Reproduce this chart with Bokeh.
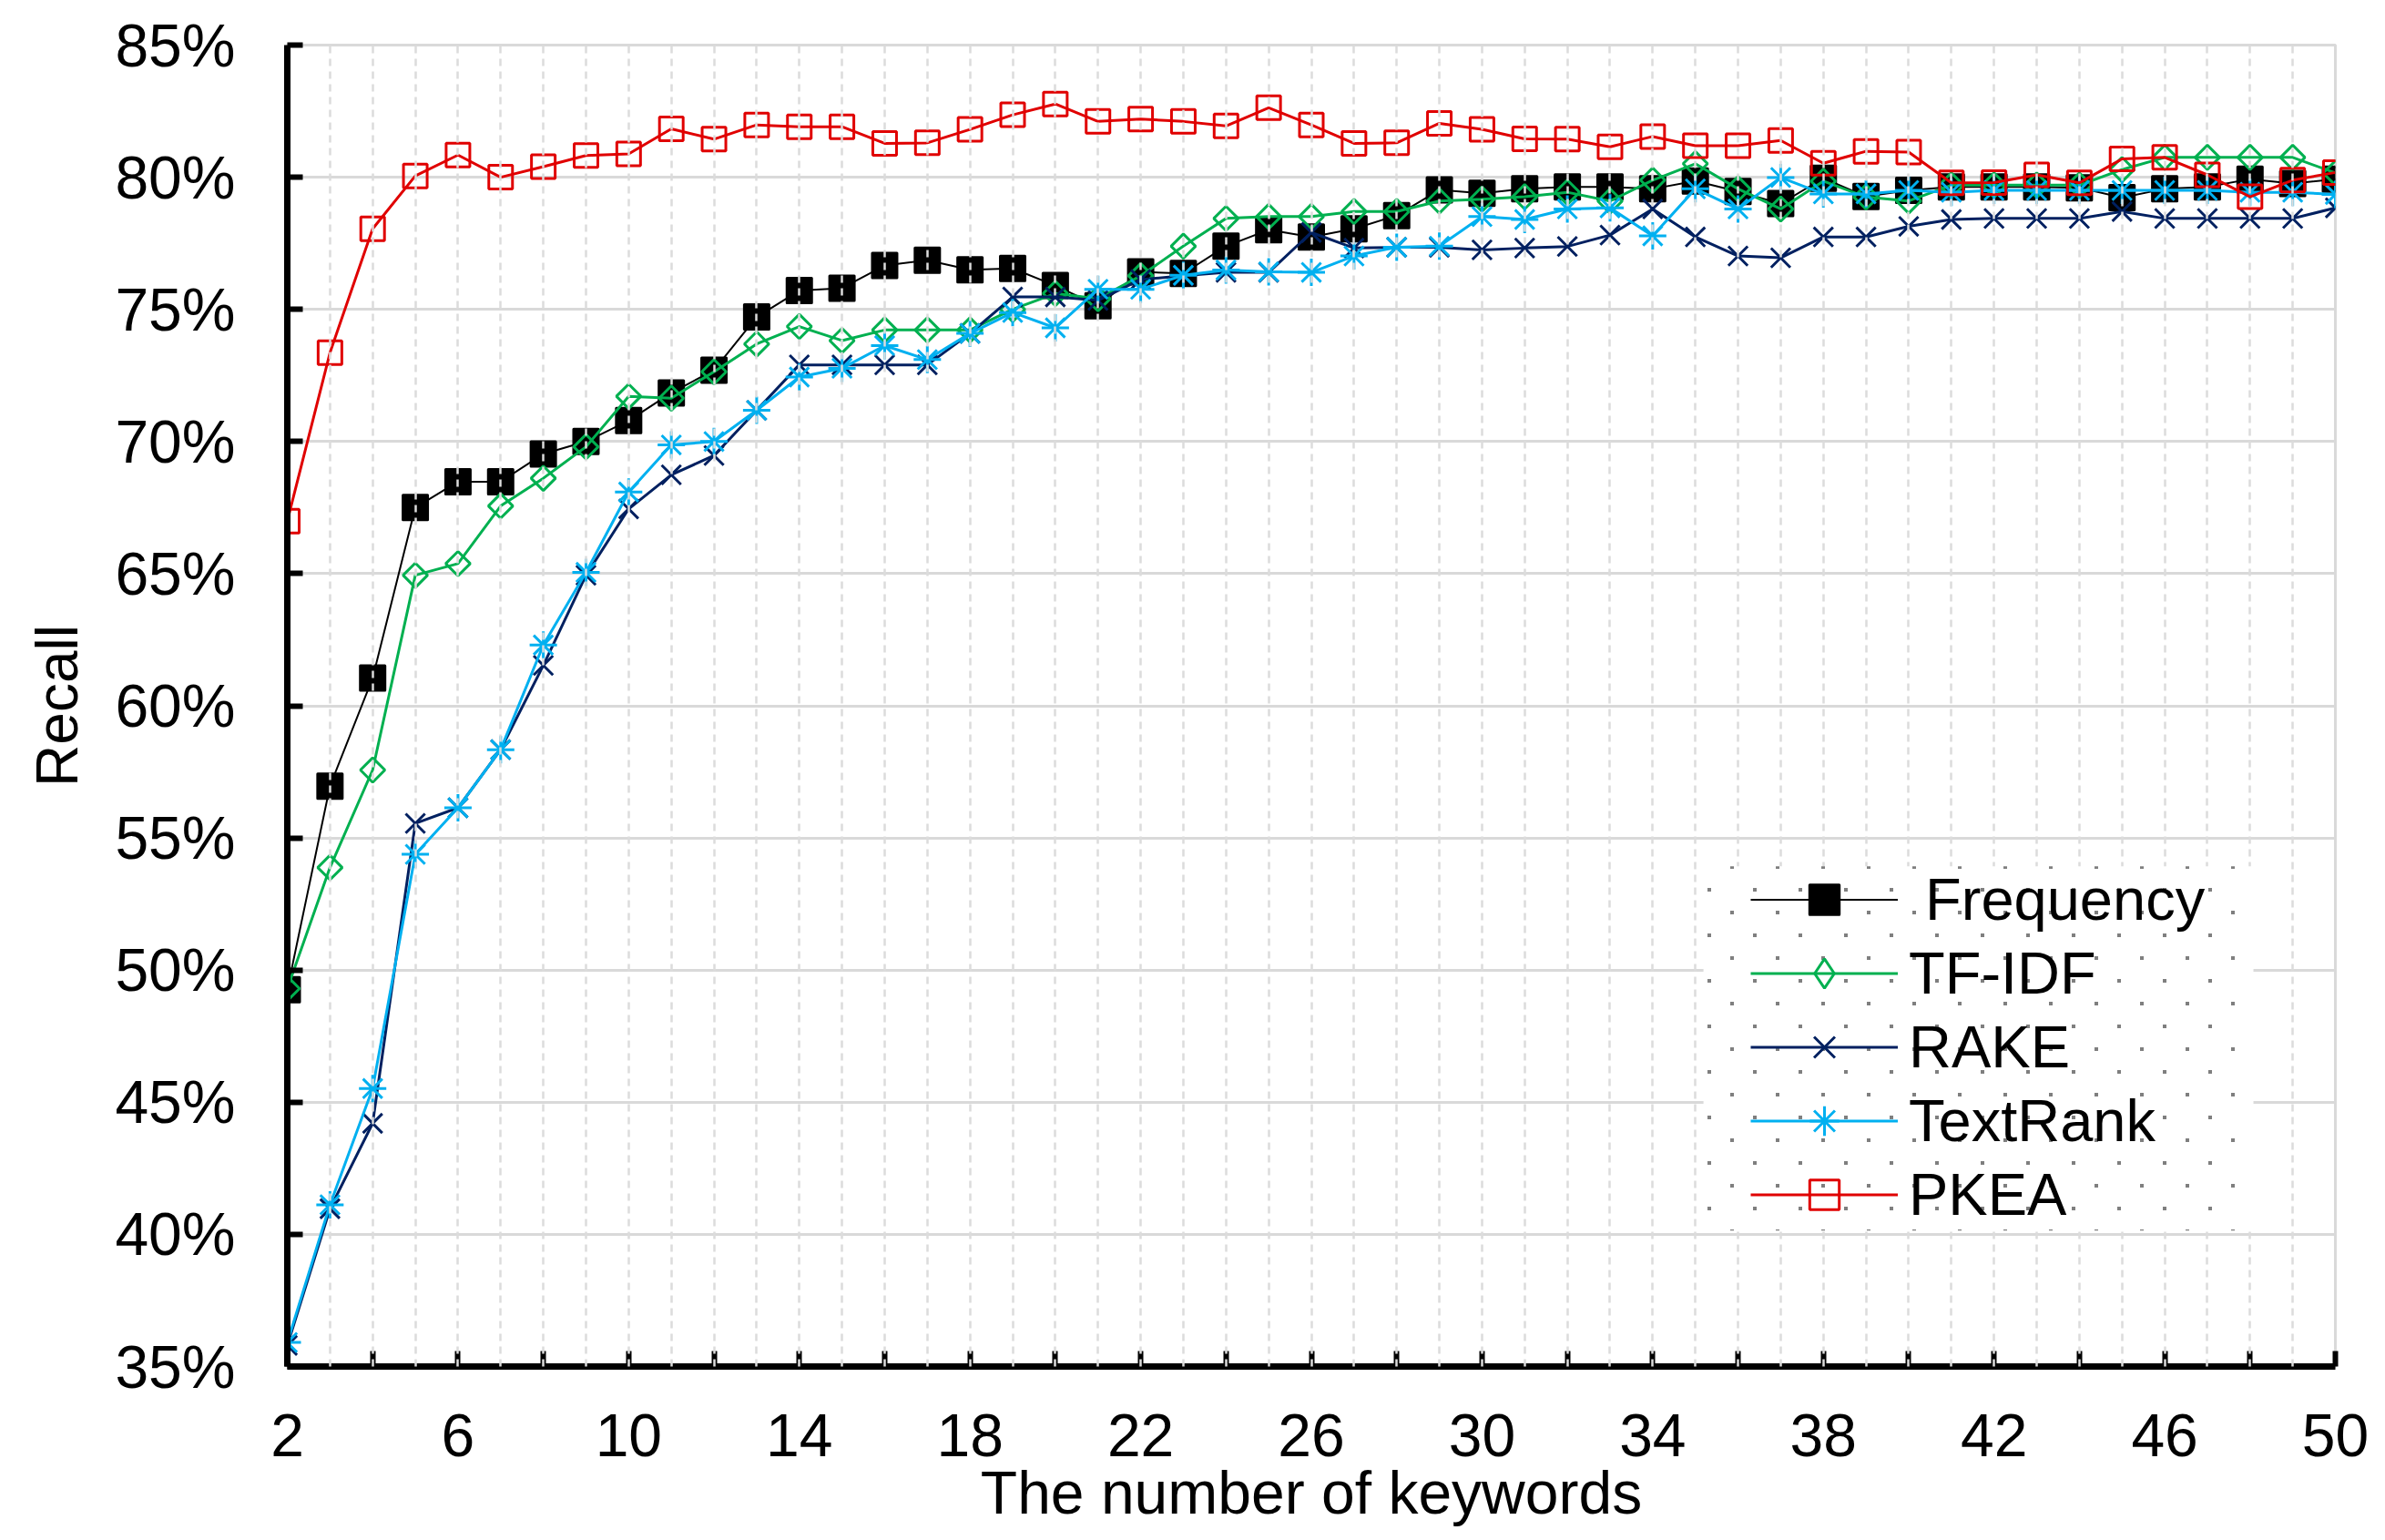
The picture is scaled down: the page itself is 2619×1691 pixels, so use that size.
from bokeh.plotting import figure
from bokeh.models import (Range1d, FixedTicker, PrintfTickFormatter, Legend, LegendItem,
                          BoxAnnotation, ColumnDataSource, ImageURLTexture)
from bokeh.embed import file_html
from bokeh.resources import INLINE
import base64
import math

x_vals = list(range(2, 51))

frequency = [49.26, 56.96, 61.05, 67.50, 68.48, 68.48, 69.53, 70.00, 70.79, 71.84,
             72.70, 74.71, 75.71, 75.80, 76.66, 76.86, 76.50, 76.55, 75.90, 75.14,
             76.42, 76.36, 77.39, 78.01, 77.74, 78.05, 78.55, 79.52, 79.39, 79.56,
             79.63, 79.63, 79.56, 79.86, 79.46, 79.00, 79.96, 79.27, 79.50, 79.63,
             79.63, 79.63, 79.60, 79.23, 79.56, 79.63, 79.93, 79.76, 79.93]

tfidf = [49.30, 53.88, 57.57, 64.94, 65.38, 67.56, 68.61, 69.80, 71.71, 71.64,
         72.64, 73.69, 74.35, 73.82, 74.22, 74.22, 74.22, 75.00, 75.60, 75.40,
         76.27, 77.39, 78.44, 78.51, 78.51, 78.70, 78.70, 79.10, 79.17, 79.26,
         79.43, 79.10, 79.89, 80.51, 79.56, 78.80, 79.85, 79.25, 79.10, 79.70,
         79.70, 79.70, 79.70, 80.29, 80.75, 80.75, 80.75, 80.75, 80.16]

rake = [35.80, 40.97, 44.20, 55.55, 56.14, 58.34, 61.53, 64.94, 67.45, 68.74,
        69.47, 71.18, 72.90, 72.90, 72.90, 72.90, 74.09, 75.47, 75.47, 75.34,
        76.13, 76.27, 76.40, 76.40, 77.91, 77.32, 77.35, 77.35, 77.25, 77.32,
        77.38, 77.81, 78.80, 77.74, 77.02, 76.95, 77.74, 77.74, 78.14, 78.40,
        78.44, 78.44, 78.44, 78.70, 78.44, 78.44, 78.44, 78.44, 78.84]

textrank = [35.91, 41.12, 45.52, 54.38, 56.14, 58.34, 62.30, 65.05, 68.09, 69.87,
            70.00, 71.18, 72.44, 72.77, 73.63, 73.10, 74.09, 74.88, 74.30, 75.76,
            75.76, 76.29, 76.49, 76.42, 76.40, 77.02, 77.35, 77.39, 78.51, 78.40,
            78.80, 78.84, 77.78, 79.56, 78.80, 79.99, 79.37, 79.37, 79.50, 79.43,
            79.50, 79.50, 79.50, 79.50, 79.50, 79.50, 79.43, 79.43, 79.35]

pkea = [66.99, 73.36, 78.05, 80.05, 80.84, 80.00, 80.40, 80.82, 80.88, 81.83,
        81.44, 81.98, 81.91, 81.91, 81.28, 81.30, 81.81, 82.36, 82.77, 82.11,
        82.20, 82.11, 81.94, 82.63, 81.98, 81.28, 81.30, 82.04, 81.81, 81.45,
        81.44, 81.15, 81.54, 81.19, 81.19, 81.39, 80.53, 80.98, 80.95, 79.79,
        79.80, 80.09, 79.79, 80.69, 80.75, 80.09, 79.26, 79.89, 80.18]

series_names = ["\u00a0Frequency", "TF-IDF", "RAKE", "TextRank", "PKEA"]
x_tick_values = list(range(2, 51, 4))
x_minor_tick_values = list(range(4, 50, 4))
y_tick_values = list(range(35, 86, 5))

FONT = "Liberation Sans"

p = figure(width=2610, height=1685, x_range=Range1d(2, 50), y_range=Range1d(35, 85),
           output_backend="svg", toolbar_location=None,
           min_border_left=315, min_border_right=46, min_border_top=49, min_border_bottom=185)
p.background_fill_color = "white"
p.border_fill_color = "white"
p.outline_line_color = "#d9d9d9"
p.outline_line_width = 3
# an off-screen range, used only so a legend proxy glyph draws nothing in the plot
p.extra_x_ranges = {"legend_only": Range1d(1000, 1001)}

# grids
p.xgrid.ticker = FixedTicker(ticks=x_vals)
p.xgrid.grid_line_color = "#dcdcdc"
p.xgrid.grid_line_width = 2.5
p.xgrid.grid_line_dash = "8 6"
p.xgrid.level = "annotation"
p.ygrid.ticker = FixedTicker(ticks=y_tick_values)
p.ygrid.grid_line_color = "#d9d9d9"
p.ygrid.grid_line_width = 3

# axes
p.xaxis.ticker = FixedTicker(ticks=x_tick_values, minor_ticks=x_minor_tick_values)
p.yaxis.ticker = FixedTicker(ticks=y_tick_values)
p.yaxis.formatter = PrintfTickFormatter(format="%d%%")
for ax in (p.xaxis[0], p.yaxis[0]):
    ax.axis_line_color = "black"
    ax.axis_line_width = 7
    ax.major_tick_line_color = "black"
    ax.major_tick_line_width = 6
    ax.major_tick_in = 17
    ax.major_tick_out = 0
    ax.major_label_text_font = FONT
    ax.major_label_text_font_size = "66px"
    ax.major_label_text_color = "black"
    ax.axis_label_text_font = FONT
    ax.axis_label_text_font_style = "normal"
    ax.axis_label_text_color = "black"
p.xaxis.minor_tick_line_color = "black"
p.xaxis.minor_tick_line_width = 6
p.xaxis.minor_tick_in = 17
p.xaxis.minor_tick_out = 0
p.yaxis.minor_tick_line_color = None
p.xaxis.major_label_standoff = 52
p.yaxis.major_label_standoff = 57
p.xaxis.axis_label = "The number of keywords"
p.yaxis.axis_label = "Recall"
p.xaxis.axis_label_text_font_size = "66px"
p.yaxis.axis_label_text_font_size = "64px"
p.xaxis.axis_label_standoff = 0
p.yaxis.axis_label_standoff = 24

# series
items = []
specs = [
    (frequency, "black", 2, dict(marker="square", size=27, fill_color="black", line_color="black",
                                  line_width=3, line_join="round")),
    (tfidf, "#00b050", 3, dict(marker="square", size=19, angle=math.pi / 4, fill_color=None,
                                line_color="#00b050", line_width=3)),
    (rake, "#002060", 3, dict(marker="x", size=30, line_color="#002060", line_width=3)),
    (textrank, "#00b0f0", 3, dict(marker="asterisk", size=30, line_color="#00b0f0", line_width=3)),
    (pkea, "#e00000", 3, dict(marker="square", size=26, fill_color=None, line_color="#e00000",
                               line_width=3)),
]
for name, (ys, color, lw, mk) in zip(series_names, specs):
    src = ColumnDataSource(data=dict(x=x_vals, y=ys))
    lr = p.line("x", "y", source=src, line_color=color, line_width=lw)
    sr = p.scatter("x", "y", source=src, **mk)
    if mk.get("angle"):
        # legend glyphs are drawn unrotated, so the legend uses a diamond proxy
        # mapped to an off-screen range (it draws nothing inside the plot)
        proxy = p.scatter("x", "y", source=src, x_range_name="legend_only",
                          marker="diamond", size=30, fill_color=None, line_color=color,
                          line_width=3)
        items.append(LegendItem(label=name, renderers=[lr, proxy]))
    else:
        items.append(LegendItem(label=name, renderers=[lr, sr]))

# legend background with a staggered dot pattern
tile_svg = ('<svg xmlns="http://www.w3.org/2000/svg" width="50" height="50">'
            '<rect x="0" y="0" width="4" height="4" fill="#7f7f7f"/>'
            '<rect x="25" y="25" width="4" height="4" fill="#7f7f7f"/></svg>')
tile_url = "data:image/svg+xml;base64," + base64.b64encode(tile_svg.encode()).decode()
box = BoxAnnotation(left=35.19, right=48.08, top=53.93, bottom=40.14,
                    fill_color="white", fill_alpha=1.0, line_alpha=0,
                    hatch_pattern="stipple",
                    hatch_extra={"stipple": ImageURLTexture(url=tile_url, repetition="repeat")})
p.add_layout(box)

legend = Legend(items=items, location=(1607, 148), orientation="vertical",
                label_text_font=FONT, label_text_font_size="65px", label_text_color="black",
                glyph_width=162, glyph_height=81, label_height=81, spacing=0, padding=0, margin=0,
                label_standoff=12, border_line_alpha=0, background_fill_alpha=0)
p.add_layout(legend)

open("out.html", "w").write(file_html(p, INLINE))
